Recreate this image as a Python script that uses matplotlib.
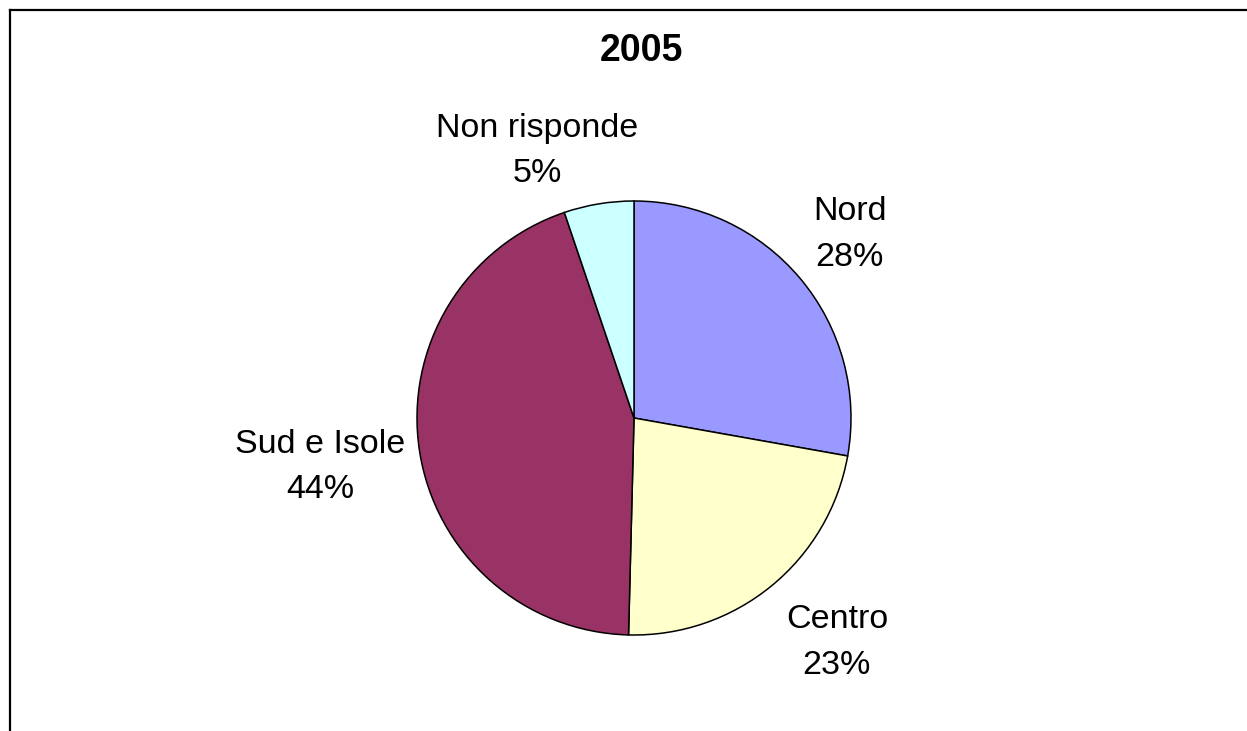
import matplotlib
matplotlib.use('Agg')
import matplotlib.pyplot as plt
from matplotlib.lines import Line2D

plt.rcParams['font.family'] = ['Liberation Sans', 'DejaVu Sans']

''' chart data '''
title = '2005'
labels = ['Nord', 'Centro', 'Sud e Isole', 'Non risponde']
values = [27.8, 22.6, 44.4, 5.2]
colors = ['#9999FF', '#FFFFCC', '#993366', '#CCFFFF']
# label centres, in units of the pie radius
label_pos = [(0.995, 0.845), (0.935, -1.035), (-1.447, -0.225), (-0.447, 1.23)]

W, H = 1247, 731
fig = plt.figure(figsize=(W / 100, H / 100), dpi=100)

# pie axes: centre (634, 418) px, radius 217 px
cx, cy, r = 634, 418, 217
ax = fig.add_axes([(cx - r) / W, (H - cy - r) / H, 2 * r / W, 2 * r / H])
ax.pie(values, colors=colors, startangle=90, counterclock=False, radius=1,
       wedgeprops=dict(edgecolor='black', linewidth=1.1))
ax.set_xlim(-1, 1)
ax.set_ylim(-1, 1)
ax.set_aspect('equal')
ax.axis('off')

for lab, v, (x, y) in zip(labels, values, label_pos):
    ax.text(x, y, '%s\n%d%%' % (lab, round(v)), ha='center', va='center',
            fontsize=24.5, linespacing=1.6, clip_on=False)

fig.text(641 / W, 1 - 51 / H, title, ha='center', va='center',
         fontsize=27, fontweight='bold')

# chart area frame (only top and left edges visible)
fig.add_artist(Line2D([9.5 / W, 1], [1 - 9.5 / H, 1 - 9.5 / H], color='black', linewidth=1.6, transform=fig.transFigure))
fig.add_artist(Line2D([9.5 / W, 9.5 / W], [0, 1 - 9.5 / H], color='black', linewidth=1.6, transform=fig.transFigure))

fig.savefig('out.png', dpi=100)
